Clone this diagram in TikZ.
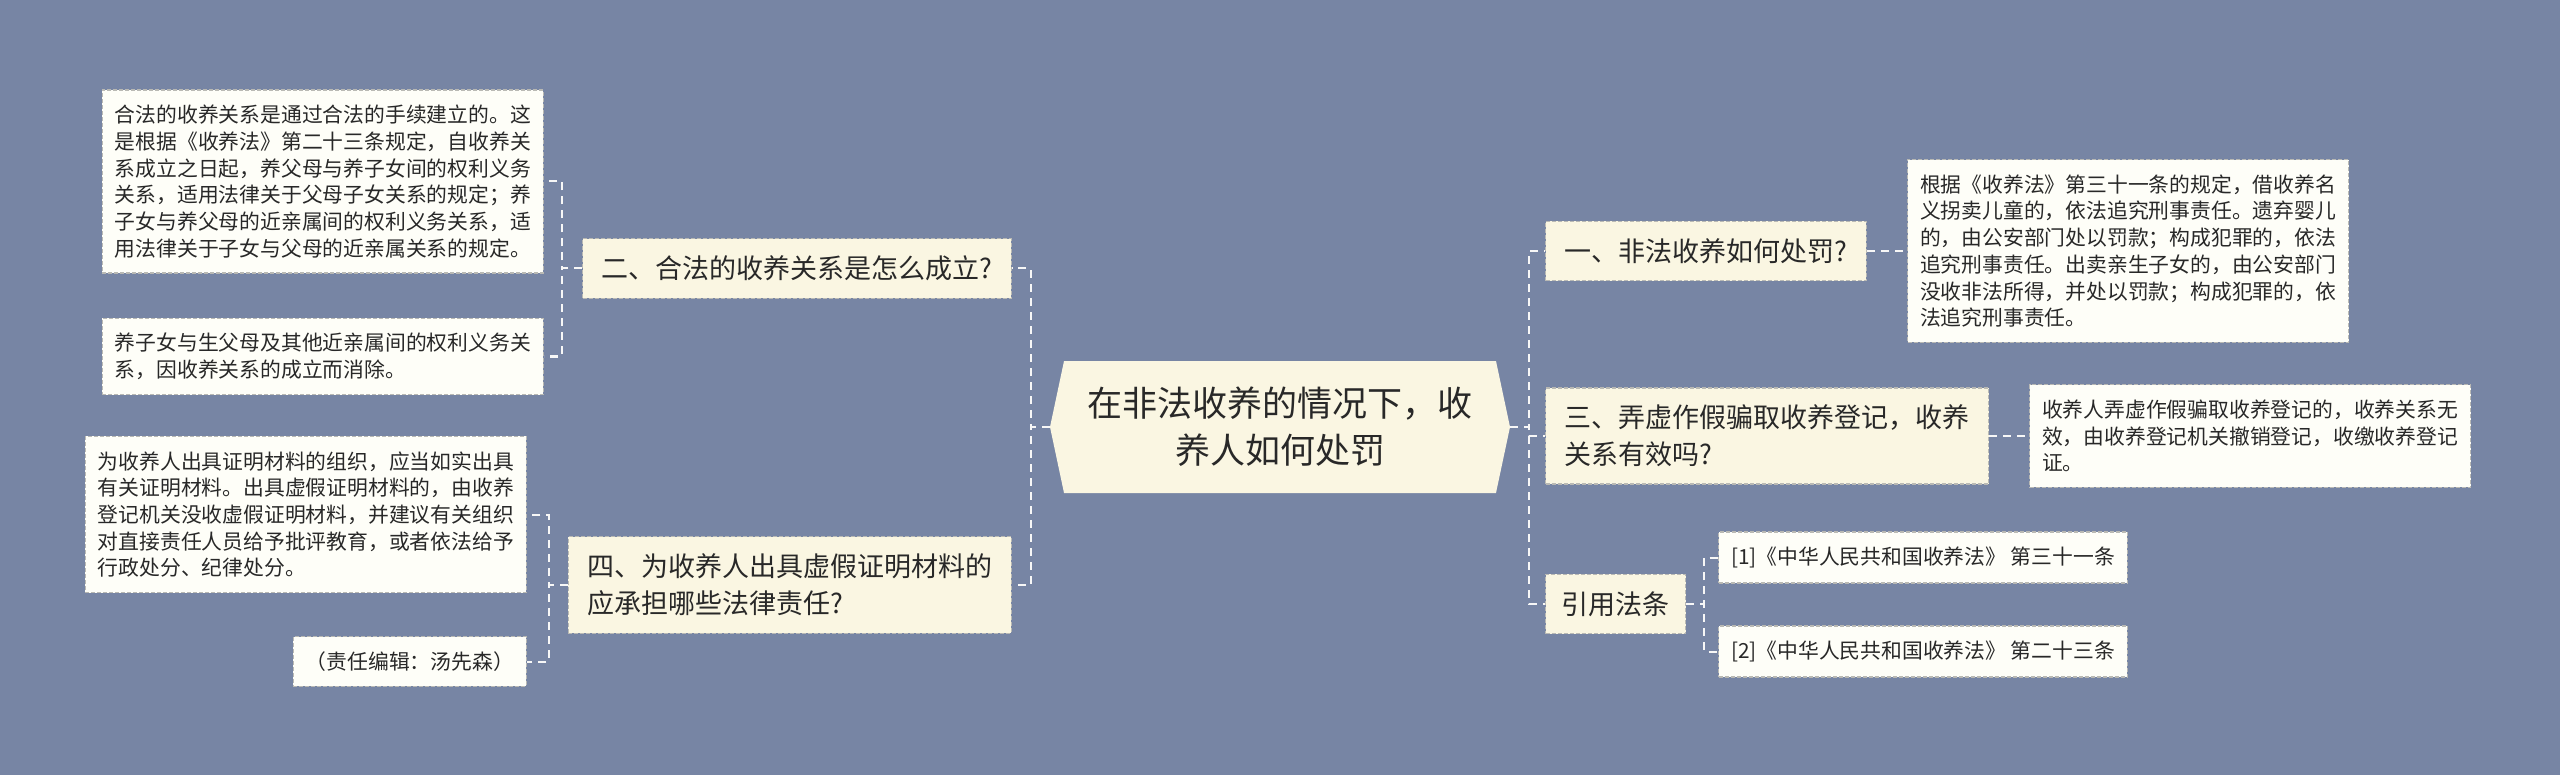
\documentclass[tikz,border=0pt]{standalone}
\usepackage{fontspec}
\setmainfont{Noto Sans CJK SC}
\usepackage{xcolor}
\usepackage{tikz}
\usetikzlibrary{shapes.symbols}

\definecolor{bgblue}{RGB}{119,133,164}
\definecolor{creamfill}{RGB}{250,246,226}
\definecolor{leaffill}{RGB}{254,254,248}
\definecolor{boxline}{RGB}{185,185,180}
\definecolor{txtgray}{RGB}{40,40,40}

\begin{document}
\begin{tikzpicture}[x=0.5pt,y=-0.5pt,
    rootbox/.style={signal,signal to=west and east,signal pointer angle=156,
        fill=creamfill,draw=none,minimum width=230pt,minimum height=66pt,
        align=center,text=txtgray,font=\fontsize{17.5}{23.5}\selectfont},
    branchbox/.style={rectangle,fill=creamfill,draw=boxline,line width=0.6pt,
        dash pattern=on 2pt off 1pt,inner xsep=9.5pt,inner ysep=8.5pt,
        align=left,text=txtgray,font=\fontsize{13.5}{18.5}\selectfont},
    leafbox/.style={rectangle,fill=leaffill,draw=boxline,line width=0.6pt,
        dash pattern=on 2pt off 1pt,inner xsep=6.25pt,inner ysep=7.5pt,
        align=left,text=txtgray,font=\fontsize{10.4}{13.35}\selectfont},
    linkline/.style={draw=white!94!gray,line width=1pt,dash pattern=on 4pt off 3pt}]

    \fill[bgblue] (0,0) rectangle (2560,775);
    \useasboundingbox (0,0) rectangle (2560,775);

    % 中心主题
    \node[rootbox] (root) at (1280,427) {在非法收养的情况下，收\\养人如何处罚};

    % 左侧分支
    \node[branchbox,anchor=east] (two) at (1012,268.5) {二、合法的收养关系是怎么成立?};
    \node[branchbox,anchor=east] (four) at (1012,585) {四、为收养人出具虚假证明材料的\\应承担哪些法律责任?};

    \node[leafbox,anchor=east] (law) at (544,181.5) {合法的收养关系是通过合法的手续建立的。这\\是根据《收养法》第二十三条规定，自收养关\\系成立之日起，养父母与养子女间的权利义务\\关系，适用法律关于父母子女关系的规定；养\\子女与养父母的近亲属间的权利义务关系，适\\用法律关于子女与父母的近亲属关系的规定。};
    \node[leafbox,anchor=east] (birth) at (544,356.5) {养子女与生父母及其他近亲属间的权利义务关\\系，因收养关系的成立而消除。};
    \node[leafbox,anchor=east] (proof) at (527,514.5) {为收养人出具证明材料的组织，应当如实出具\\有关证明材料。出具虚假证明材料的，由收养\\登记机关没收虚假证明材料，并建议有关组织\\对直接责任人员给予批评教育，或者依法给予\\行政处分、纪律处分。};
    \node[leafbox,anchor=east] (editor) at (527,661.5) {（责任编辑：汤先森）};

    % 右侧分支
    \node[branchbox,anchor=west] (one) at (1545,251) {一、非法收养如何处罚?};
    \node[branchbox,anchor=west] (three) at (1545,436) {三、弄虚作假骗取收养登记，收养\\关系有效吗?};
    \node[branchbox,anchor=west,inner xsep=8pt] (cite) at (1545,604) {引用法条};

    \node[leafbox,anchor=west] (penalty) at (1907,251) {根据《收养法》第三十一条的规定，借收养名\\义拐卖儿童的，依法追究刑事责任。遗弃婴儿\\的，由公安部门处以罚款；构成犯罪的，依法\\追究刑事责任。出卖亲生子女的，由公安部门\\没收非法所得，并处以罚款；构成犯罪的，依\\法追究刑事责任。};
    \node[leafbox,anchor=west] (void) at (2029,436) {收养人弄虚作假骗取收养登记的，收养关系无\\效，由收养登记机关撤销登记，收缴收养登记\\证。};
    \node[leafbox,anchor=west] (citeA) at (1718,557.5) {[1]《中华人民共和国收养法》 第三十一条};
    \node[leafbox,anchor=west] (citeB) at (1718,651.5) {[2]《中华人民共和国收养法》 第二十三条};

    % 连线
    \draw[linkline] (root.west) -- ++(-19,0) |- (two.east);
    \draw[linkline] (root.west) -- ++(-19,0) |- (four.east);
    \draw[linkline] (two.west) -- ++(-20,0) |- (law.east);
    \draw[linkline] (two.west) -- ++(-20,0) |- (birth.east);
    \draw[linkline] (four.west) -- ++(-19,0) |- (proof.east);
    \draw[linkline] (four.west) -- ++(-19,0) |- (editor.east);
    \draw[linkline] (root.east) -- ++(19,0) |- (one.west);
    \draw[linkline] (root.east) -- ++(19,0) |- (three.west);
    \draw[linkline] (root.east) -- ++(19,0) |- (cite.west);
    \draw[linkline] (one.east) -- (penalty.west);
    \draw[linkline] (three.east) -- (void.west);
    \draw[linkline] (cite.east) -- ++(18,0) |- (citeA.west);
    \draw[linkline] (cite.east) -- ++(18,0) |- (citeB.west);
\end{tikzpicture}
\end{document}
